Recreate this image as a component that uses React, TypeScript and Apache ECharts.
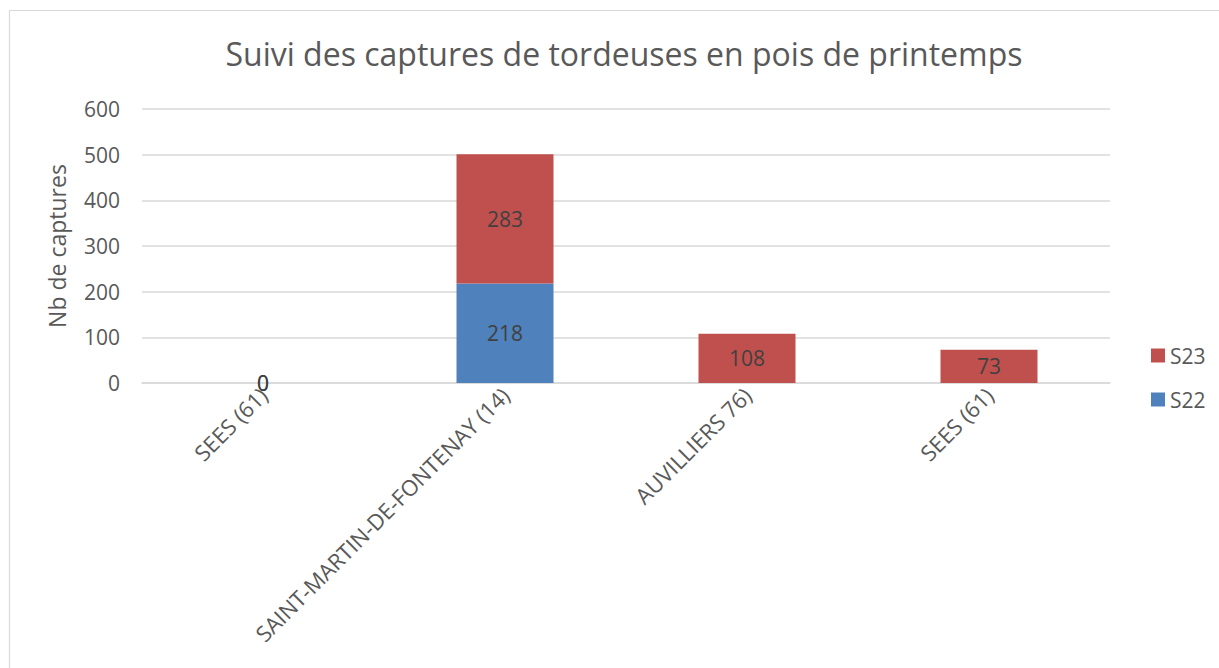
import React, { useEffect, useRef } from "react";
import * as echarts from "echarts";

const categories = ["SEES (61)", "SAINT-MARTIN-DE-FONTENAY (14)", "AUVILLIERS 76)", "SEES (61)"];
const s22Values = [0, 218, null, null];
const s23Values = [0, 283, 108, 73];
const yTicks = { min: 0, max: 600, interval: 100 };
const titleText = "Suivi des captures de tordeuses en pois de printemps";
const yAxisName = "Nb de captures";

const FONT = "'Open Sans', 'Noto Sans', sans-serif";

export default function App() {
  const ref = useRef<HTMLDivElement>(null);
  useEffect(() => {
    if (!ref.current) return;
    const chart = echarts.init(ref.current, undefined, { renderer: "svg" });
    const labelStyle = {
      show: true,
      position: "inside",
      color: "#404040",
      fontSize: 21,
      fontFamily: FONT,
    };
    chart.setOption({
      animation: false,
      backgroundColor: "#ffffff",
      graphic: [
        {
          type: "rect",
          shape: { x: 9.5, y: 10.5, width: 1230, height: 680 },
          style: { fill: "none", stroke: "#d9d9d9", lineWidth: 1.2 },
          silent: true,
        },
      ],
      title: {
        text: titleText,
        left: 619,
        textAlign: "center",
        top: 32,
        textStyle: { color: "#595959", fontSize: 32, fontWeight: "normal", fontFamily: FONT },
      },
      legend: {
        orient: "vertical",
        left: 1151,
        top: 345,
        padding: 0,
        itemWidth: 14,
        itemHeight: 14,
        itemGap: 23,
        icon: "rect",
        data: ["S23", "S22"],
        textStyle: { color: "#595959", fontSize: 21, fontFamily: FONT },
      },
      grid: { left: 142, right: 109, top: 109, bottom: 285, containLabel: false },
      xAxis: {
        type: "category",
        data: categories,
        axisLine: { show: true, lineStyle: { color: "#d9d9d9", width: 1.5 } },
        axisTick: { show: false },
        axisLabel: {
          rotate: 45,
          interval: 0,
          color: "#595959",
          fontSize: 22,
          fontFamily: FONT,
          margin: 8,
        },
      },
      yAxis: {
        type: "value",
        min: yTicks.min,
        max: yTicks.max,
        interval: yTicks.interval,
        name: yAxisName,
        nameLocation: "middle",
        nameGap: 74,
        nameRotate: 90,
        nameTextStyle: { color: "#595959", fontSize: 23, fontFamily: FONT },
        axisLine: { show: false },
        axisTick: { show: false },
        axisLabel: { color: "#595959", fontSize: 21, fontFamily: FONT, margin: 22 },
        splitLine: { lineStyle: { color: "#d9d9d9", width: 1.5 } },
      },
      series: [
        {
          name: "S22",
          type: "bar",
          stack: "total",
          data: s22Values,
          barWidth: 97,
          itemStyle: { color: "#4f81bd" },
          label: labelStyle,
        },
        {
          name: "S23",
          type: "bar",
          stack: "total",
          data: s23Values,
          barWidth: 97,
          itemStyle: { color: "#c0504d" },
          label: labelStyle,
        },
      ],
    });
    return () => chart.dispose();
  }, []);
  return (
    <div
      ref={ref}
      style={{ position: "fixed", left: 0, top: 0, width: 1219, height: 668, background: "#fff" }}
    />
  );
}
